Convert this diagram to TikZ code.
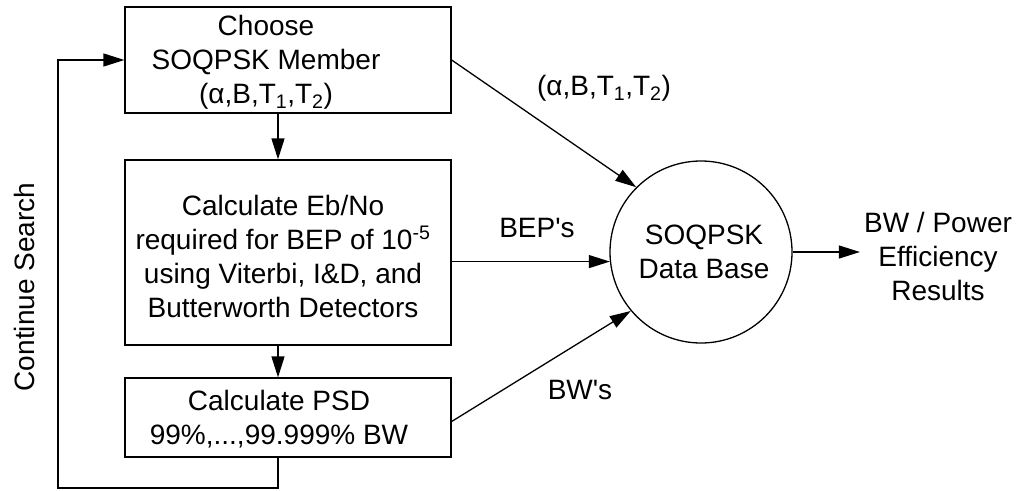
\documentclass[tikz,border=0pt]{standalone}
\usepackage{fontspec}
\setmainfont{Liberation Sans}
\usetikzlibrary{arrows.meta,calc}
\tikzset{
  every node/.style={font=\fontsize{28}{34}\selectfont, inner sep=0pt},
  box/.style={draw, line width=1.3pt, rectangle},
  txt/.style={align=center},
  db/.style={draw, line width=1.3pt, circle, minimum size=182pt},
  arr/.style={line width=1.3pt, -{Triangle[length=21pt,width=13pt]}},
}
\begin{document}
\begin{tikzpicture}[x=1pt,y=-1pt]
\useasboundingbox (0,0) rectangle (1017,490);
% boxes
\node[box, minimum width=326pt, minimum height=106pt] (b1) at (288,60) {};
\node[box, minimum width=326pt, minimum height=185pt] (b2) at (288,252.5) {};
\node[box, minimum width=326pt, minimum height=79pt] (b3) at (288,417.5) {};
\node[txt] (t1) at (266,62) {Choose\\SOQPSK Member\\(α,B,T\textsubscript{1},T\textsubscript{2})};
\node[txt] (t2) at (283,256) {Calculate Eb/No\\required for BEP of 10\textsuperscript{-5}\\using Viterbi, I\&D, and\\Butterworth Detectors};
\node[txt] (t3) at (279,419) {Calculate PSD\\99\%,...,99.999\% BW};
% data base
\node[db] (db) at (701,252) {};
\node[txt] (tdb) at (704,252) {SOQPSK\\Data Base};
% result
\node[txt, inner sep=4pt] (res) at (938,256) {BW / Power\\Efficiency\\Results};
% labels
\node (l1) at (604,88) {(α,B,T\textsubscript{1},T\textsubscript{2})};
\node (l2) at (537,228) {BEP\textquotesingle s};
\node (l3) at (580,390) {BW\textquotesingle s};
\node[rotate=90] (cs) at (24,287) {Continue Search};
\coordinate (lb) at (58,488);
% connectors
\draw[arr] ([xshift=-10pt]b1.south) -- ([xshift=-10pt]b2.north);
\draw[arr] ([xshift=-10pt]b2.south) -- ([xshift=-10pt]b3.north);
\draw[arr] ([xshift=-10pt]b3.south) |- (lb) |- (b1.west);
\draw[arr] (b1.east) -- (db.135);
\draw[arr] (b2.east |- db.186) -- (db.186);
\draw[arr] ([yshift=-4pt]b3.east) -- (db.220);
\draw[arr] (db.east) -- (db.east -| res.west);
\end{tikzpicture}
\end{document}
